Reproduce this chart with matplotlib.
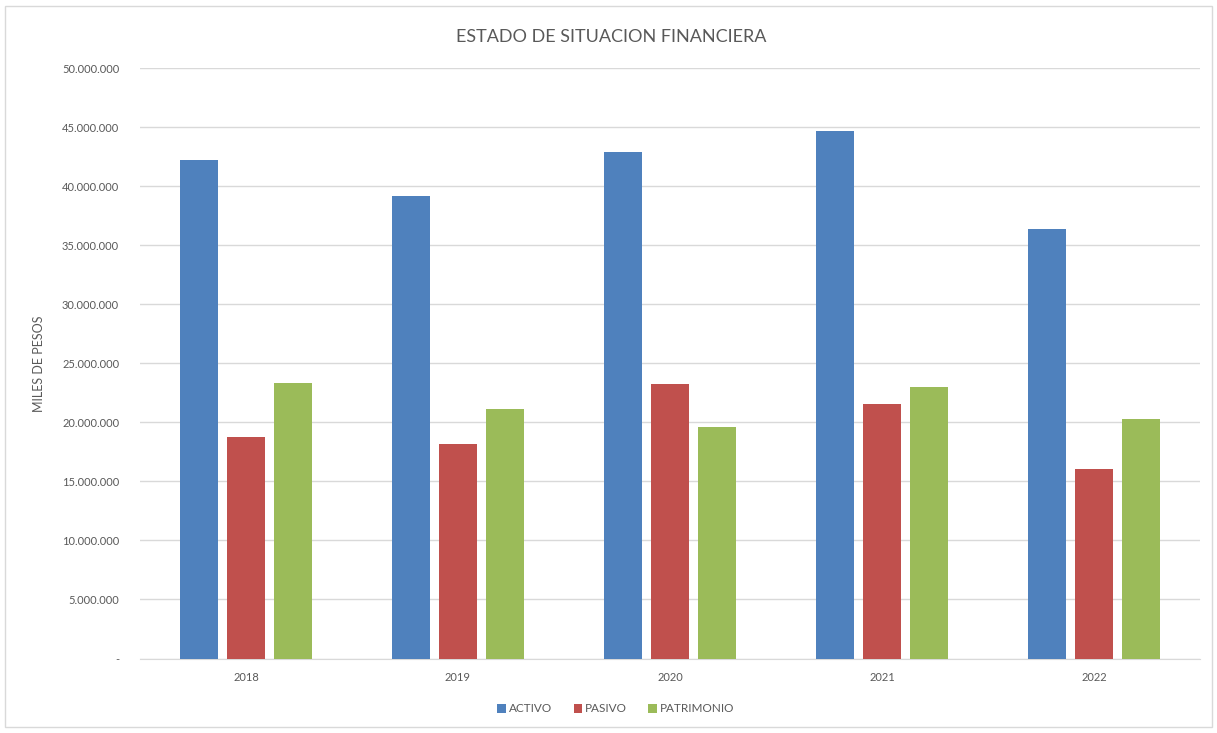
import numpy as np
import matplotlib.pyplot as plt
from matplotlib.ticker import FuncFormatter
from matplotlib.patches import Rectangle

# Valores en miles de pesos
years = ["2018", "2019", "2020", "2021", "2022"]
activo = [42250000, 39170000, 42900000, 44700000, 36400000]
pasivo = [18800000, 18180000, 23240000, 21600000, 16060000]
patrimonio = [23370000, 21120000, 19640000, 23030000, 20300000]

series = [("ACTIVO", activo, "#4f81bd"),
          ("PASIVO", pasivo, "#c0504d"),
          ("PATRIMONIO", patrimonio, "#9bbb59")]

plt.rcParams['font.family'] = ['Lato', 'DejaVu Sans']
txt = "#595959"

fig = plt.figure(figsize=(12.17, 7.33), dpi=100)
fig.patches.append(Rectangle((0.004, 0.008), 0.992, 0.984, transform=fig.transFigure,
                             fill=False, edgecolor="#d9d9d9", linewidth=1))
ax = fig.add_axes([140 / 1217, 1 - 658.5 / 733, 1060 / 1217, 590.2 / 733])

x = np.arange(len(years))
w = 0.177
step = 0.222
for i, (name, vals, col) in enumerate(series):
    ax.bar(x + (i - 1) * step, vals, width=w, color=col, label=name, zorder=3)

ax.set_xlim(-0.5, len(years) - 0.5)
ax.set_ylim(0, 50000000)
ax.set_yticks(np.arange(0, 50000001, 5000000))
ax.yaxis.set_major_formatter(FuncFormatter(
    lambda v, p: "-" if v == 0 else f"{int(v):,}".replace(",", ".")))
ax.set_xticks(x)
ax.set_xticklabels(years)
ax.grid(axis="y", color="#d9d9d9", linewidth=1, zorder=0)
for s in ["top", "right", "left"]:
    ax.spines[s].set_visible(False)
ax.spines["bottom"].set_color("#d9d9d9")
ax.tick_params(length=0, colors=txt, labelsize=8)
ax.tick_params(axis="y", pad=15)
ax.tick_params(axis="x", pad=10)

ax.set_ylabel("MILES DE PESOS", color=txt, fontsize=9, labelpad=12)
ax.yaxis.set_label_coords(-95 / 1060, 0.5)
fig.text(0.502, 1 - 37 / 733, "ESTADO DE SITUACION FINANCIERA", ha="center", va="center",
         fontsize=13, color=txt)

fig.legend(*ax.get_legend_handles_labels(), loc="center",
           bbox_to_anchor=(616 / 1217, 1 - 709 / 733), ncol=3, frameon=False,
           fontsize=8.5, labelcolor=txt, handlelength=0.7, handleheight=0.7,
           handletextpad=0.3, columnspacing=1.8)

plt.savefig("out.png", dpi=100)
